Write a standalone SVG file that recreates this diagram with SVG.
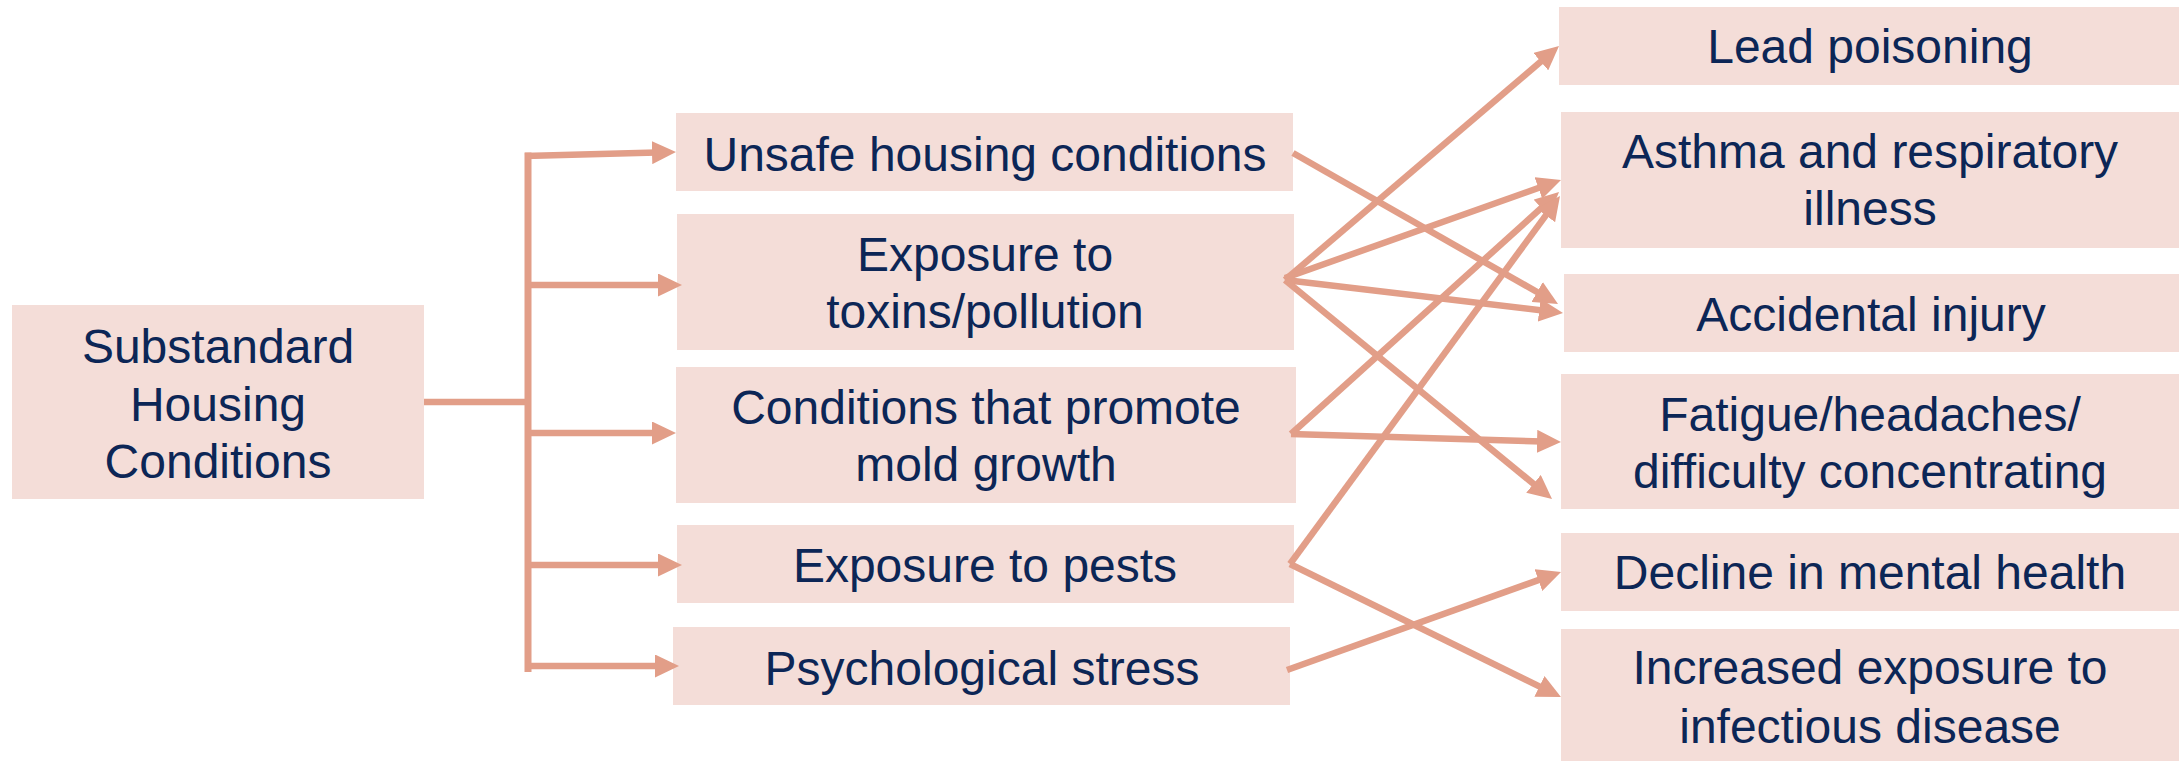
<svg xmlns="http://www.w3.org/2000/svg" width="2179" height="761" viewBox="0 0 2179 761">
  <style>
    .box { fill: #F4DDD8; }
    .lbl { font-family: "Liberation Sans", Arial, sans-serif; font-size: 48px; fill: #0C2656; text-anchor: middle; }
    .conn { stroke: #E29E88; stroke-width: 6.5; fill: none; stroke-linecap: butt; }
    .arr { marker-end: url(#ah); }
  </style>
  <defs>
    <marker id="ah" markerUnits="userSpaceOnUse" markerWidth="24" markerHeight="23" refX="14" refY="11.5" orient="auto">
      <path d="M0,0 L24,11.5 L0,23 Z" fill="#E29E88"/>
    </marker>
  </defs>
  <rect width="2179" height="761" fill="#FFFFFF"/>

  <g id="node-substandard">
    <rect class="box" x="12" y="305" width="412" height="194"/>
    <text class="lbl" x="218" y="363">Substandard</text>
    <text class="lbl" x="218" y="421">Housing</text>
    <text class="lbl" x="218" y="478">Conditions</text>
  </g>

  <g id="node-unsafe">
    <rect class="box" x="676" y="113" width="617" height="78"/>
    <text class="lbl" x="985" y="171">Unsafe housing conditions</text>
  </g>
  <g id="node-toxins">
    <rect class="box" x="677" y="214" width="617" height="136"/>
    <text class="lbl" x="985" y="271">Exposure to</text>
    <text class="lbl" x="985" y="328">toxins/pollution</text>
  </g>
  <g id="node-mold">
    <rect class="box" x="676" y="367" width="620" height="136"/>
    <text class="lbl" x="986" y="424">Conditions that promote</text>
    <text class="lbl" x="986" y="481">mold growth</text>
  </g>
  <g id="node-pests">
    <rect class="box" x="677" y="525" width="617" height="78"/>
    <text class="lbl" x="985" y="581.5">Exposure to pests</text>
  </g>
  <g id="node-psych">
    <rect class="box" x="673" y="627" width="617" height="78"/>
    <text class="lbl" x="982" y="685">Psychological stress</text>
  </g>

  <g id="node-lead">
    <rect class="box" x="1559" y="7" width="620" height="78"/>
    <text class="lbl" x="1870" y="62.5">Lead poisoning</text>
  </g>
  <g id="node-asthma">
    <rect class="box" x="1561" y="112" width="618" height="136"/>
    <text class="lbl" x="1870" y="168">Asthma and respiratory</text>
    <text class="lbl" x="1870" y="225">illness</text>
  </g>
  <g id="node-accidental">
    <rect class="box" x="1564" y="274" width="615" height="78"/>
    <text class="lbl" x="1871" y="331">Accidental injury</text>
  </g>
  <g id="node-fatigue">
    <rect class="box" x="1561" y="374" width="618" height="135"/>
    <text class="lbl" x="1870" y="431">Fatigue/headaches/</text>
    <text class="lbl" x="1870" y="488">difficulty concentrating</text>
  </g>
  <g id="node-decline">
    <rect class="box" x="1561" y="533" width="618" height="78"/>
    <text class="lbl" x="1870" y="589">Decline in mental health</text>
  </g>
  <g id="node-infectious">
    <rect class="box" x="1561" y="629" width="618" height="135"/>
    <text class="lbl" x="1870" y="684">Increased exposure to</text>
    <text class="lbl" x="1870" y="743">infectious disease</text>
  </g>

  <g id="connectors">
    <line class="conn" x1="424" y1="402" x2="528" y2="402"/>
    <line class="conn" x1="528" y1="152.5" x2="528" y2="672" style="stroke-width:7"/>
    <line class="conn arr" x1="525" y1="156" x2="666" y2="152.3"/>
    <line class="conn arr" x1="528" y1="285" x2="672" y2="285"/>
    <line class="conn arr" x1="528" y1="433" x2="666" y2="433"/>
    <line class="conn arr" x1="528" y1="565" x2="672" y2="565"/>
    <line class="conn arr" x1="528" y1="666" x2="669" y2="666"/>

    <line class="conn arr" x1="1293" y1="153" x2="1549.3" y2="299"/>
    <line class="conn arr" x1="1285" y1="280" x2="1551.4" y2="52.5"/>
    <line class="conn arr" x1="1285" y1="278" x2="1551.6" y2="183.3"/>
    <line class="conn arr" x1="1285" y1="280" x2="1553.1" y2="311.8"/>
    <line class="conn arr" x1="1285" y1="280" x2="1544.3" y2="492.7"/>
    <line class="conn arr" x1="1291" y1="434" x2="1551.6" y2="198.7"/>
    <line class="conn arr" x1="1291" y1="434" x2="1551" y2="441.7"/>
    <line class="conn arr" x1="1290" y1="564" x2="1554.1" y2="204.1"/>
    <line class="conn arr" x1="1290" y1="564" x2="1552" y2="692.6"/>
    <line class="conn arr" x1="1287" y1="670" x2="1551.6" y2="575.4"/>
  </g>
</svg>
